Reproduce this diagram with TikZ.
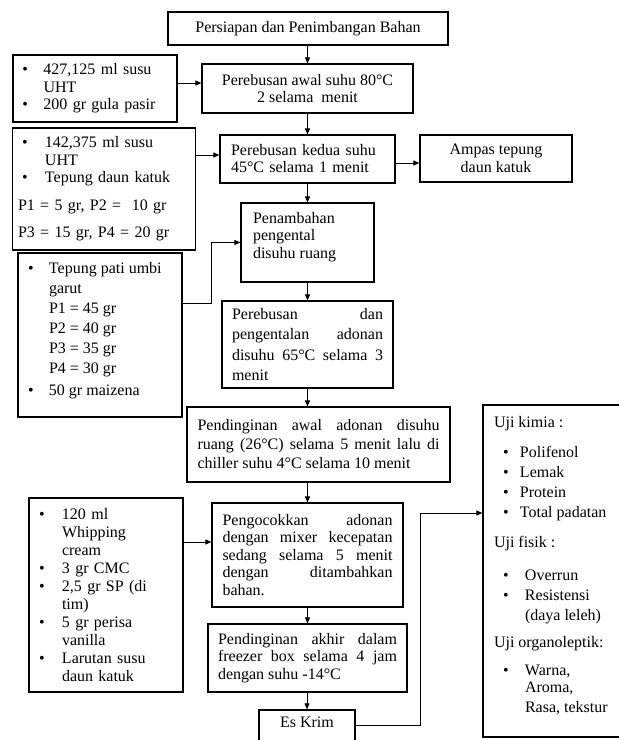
\documentclass[tikz,border=0pt]{standalone}
\usepackage{fontspec}
\setmainfont{Liberation Serif}
\usetikzlibrary{arrows.meta, calc}
\hyphenpenalty=10000
\exhyphenpenalty=10000
\tolerance=9999
\hbadness=10000
\newcommand{\bul}[2][0pt]{\hspace*{#1}\makebox[#2][l]{\textbullet}}
\newcommand{\ind}[1]{\hspace*{#1}}
\newcommand{\topstack}[4]{\parbox[c][#2][t]{#1}{\vspace*{#3}\strut #4}}

\begin{document}
\begin{tikzpicture}[
    x=1pt, y=-1pt,
    font=\fontsize{16}{18}\selectfont,
    >={Triangle[length=6pt,width=5pt]},
    box/.style={draw, line width=1.2pt, inner ysep=0pt},
    link/.style={->, line width=1pt}
]
\path[use as bounding box] (0,0) rectangle (619,740);
\clip (0,0) rectangle (619,740);

% Main column
\node[box, minimum width=280pt, minimum height=33pt] (prep) at (308,28.5) {Persiapan dan Penimbangan Bahan};
\node[box, minimum width=211pt, minimum height=49pt, align=center, font=\fontsize{16}{17}\selectfont] (boil1) at (307.5,88.5) {Perebusan awal suhu 80°C\\2 selama\ \ menit};
\node[box, minimum width=175pt, minimum height=48pt, text width=153pt, align=left, font=\fontsize{16}{17}\selectfont] (boil2) at (307.5,159) {Perebusan kedua suhu\\45°C selama 1 menit};
\node[box, inner xsep=12pt, font=\fontsize{16}{17.5}\selectfont] (thick) at (307.5,242.5) {\topstack{109pt}{79pt}{8pt}{Penambahan\\pengental\\disuhu ruang}};
\node[box, minimum width=171pt, minimum height=87pt, text width=151pt, align=justify, font=\fontsize{16}{20.5}\selectfont] (cook) at (307.5,344.5) {Perebusan dan\linebreak pengentalan adonan\linebreak disuhu 65°C selama 3\linebreak menit};
\node[box, minimum width=263pt, minimum height=75pt, text width=242pt, align=justify, font=\fontsize{16}{19}\selectfont] (chill) at (318.5,444.5) {Pendinginan awal adonan disuhu\linebreak ruang (26°C) selama 5 menit lalu di\linebreak chiller suhu 4°C selama 10 menit};
\node[box, minimum width=191pt, minimum height=104pt, text width=170pt, align=justify, font=\fontsize{16}{17.5}\selectfont] (whip) at (307.5,555) {Pengocokkan adonan\linebreak dengan mixer kecepatan\linebreak sedang selama 5 menit\linebreak dengan ditambahkan\linebreak bahan.};
\node[box, minimum width=199pt, minimum height=68pt, text width=179pt, align=justify, font=\fontsize{16}{17.5}\selectfont] (freeze) at (307.5,658) {Pendinginan akhir dalam\linebreak freezer box selama 4 jam\linebreak dengan suhu -14°C};
\node[box, inner xsep=0pt] (ice) at (307,730) {\topstack{96pt}{40pt}{5pt}{\centering Es Krim}};

% Ingredients (left)
\node[box, minimum width=164pt, minimum height=67pt, text width=145pt, align=left, font=\fontsize{16}{17.5}\selectfont] (milk1) at (95,88.5) {\bul{21pt}427,125 ml susu\\\ind{21pt}UHT\\\bul{21pt}200 gr gula pasir};
\node[box, minimum width=183pt, minimum height=122pt, text width=172pt, align=left, font=\fontsize{16}{17.5}\selectfont] (milk2) at (104,189) {\bul[4pt]{23pt}142,375 ml susu\\\ind{27pt}UHT\\\bul[4pt]{23pt}Tepung daun katuk\\[10pt]P1 = 5 gr, P2 =\ \ 10 gr\\[10pt]P3 = 15 gr, P4 = 20 gr};
\node[box, inner xsep=10pt, font=\fontsize{16}{20}\selectfont] (tuber) at (100,335) {\topstack{144pt}{164pt}{6.5pt}{\bul{21pt}Tepung pati umbi\\\ind{21pt}garut\\\ind{21pt}P1 = 45 gr\\\ind{21pt}P2 = 40 gr\\\ind{21pt}P3 = 35 gr\\\ind{21pt}P4 = 30 gr\\[2pt]\bul{21pt}50 gr maizena}};
\node[box, minimum width=154pt, minimum height=194pt, text width=134pt, align=left] (cream) at (106,595) {\bul{23pt}120 ml\\\ind{23pt}Whipping\\\ind{23pt}cream\\\bul{23pt}3 gr CMC\\\bul{23pt}2,5 gr SP (di\\\ind{23pt}tim)\\\bul{23pt}5 gr perisa\\\ind{23pt}vanilla\\\bul{23pt}Larutan susu\\\ind{23pt}daun katuk};

% Right side
\node[box, minimum width=152pt, minimum height=47pt, align=center] (dregs) at (496,158.5) {Ampas tepung\\daun katuk};
\node[box, inner xsep=11pt, font=\fontsize{16}{20}\selectfont] (tests) at (556.5,571) {\topstack{125pt}{332pt}{8.5pt}{Uji kimia :\\[10pt]\bul[9pt]{17pt}Polifenol\\\bul[9pt]{17pt}Lemak\\\bul[9pt]{17pt}Protein\\\bul[9pt]{17pt}Total padatan\\[10pt]Uji fisik :\\[13pt]\bul[9pt]{22pt}Overrun\\\bul[9pt]{22pt}Resistensi\\\ind{31pt}(daya leleh)\\[7pt]Uji organoleptik:\\[8pt]\bul[9pt]{22pt}Warna,\\[-3pt]\ind{31pt}Aroma,\\\ind{31pt}Rasa, tekstur}};

% Connections
\draw[link] (prep.south -| boil1.north) -- (boil1.north);
\draw[link] (boil1.south -| boil2.north) -- (boil2.north);
\draw[link] (boil2.south -| thick.north) -- (thick.north);
\draw[link] (thick.south -| cook.north) -- (cook.north);
\draw[link] (cook.south) -- (cook.south |- chill.north);
\draw[link] (chill.south -| whip.north) -- (whip.north);
\draw[link] (whip.south -| freeze.north) -- (freeze.north);
\draw[link] (freeze.south -| ice.north) -- (ice.north);

\draw[link] ([yshift=5.5pt]milk1.east) -- ([yshift=5.5pt]boil1.west);
\draw[link] ([yshift=4pt]boil2.west -| milk2.east) -- ([yshift=4pt]boil2.west);
\draw[link] ([yshift=-4pt]boil2.east) -- ([yshift=-4pt]boil2.east -| dregs.west);
\draw[link] ([yshift=32pt]tuber.east) -- ++(29,0) |- (thick.west);
\draw[link] ([yshift=13pt]whip.west -| cream.east) -- ([yshift=13pt]whip.west);
\draw[link] ([yshift=5pt]ice.east) -- ++(65,0) |- ([yshift=58pt]tests.west);
\end{tikzpicture}
\end{document}
